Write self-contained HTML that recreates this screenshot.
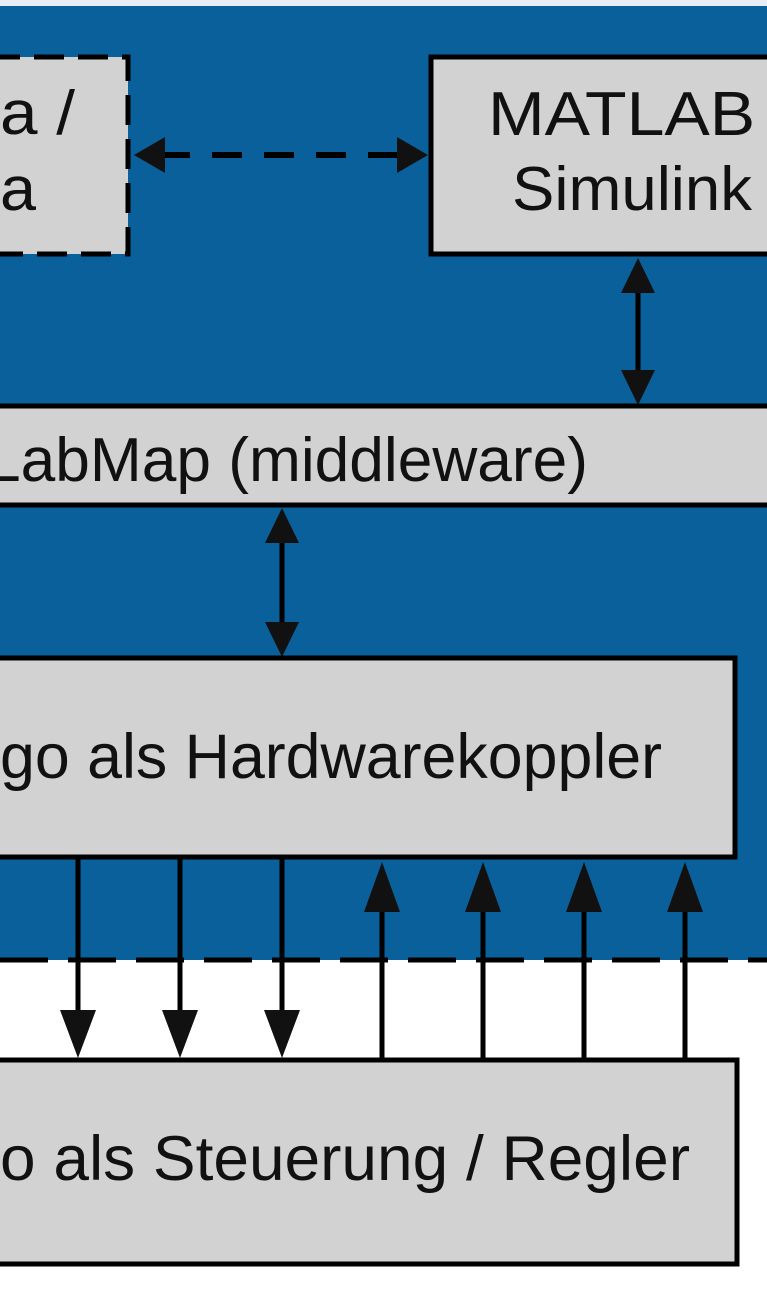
<!DOCTYPE html>
<html><head><meta charset="utf-8"><style>html,body{margin:0;padding:0;background:#fff}svg{display:block}</style></head>
<body>
<svg width="767" height="1300" viewBox="0 0 767 1300" xmlns="http://www.w3.org/2000/svg" font-family="Liberation Sans, Arial, sans-serif" fill="#111">
<rect x="0" y="0" width="767" height="6" fill="#e8eef3"/>
<rect x="0" y="6" width="767" height="954" fill="#0a609a"/>
<!-- dashed box -->
<rect x="-10" y="57" width="138" height="197" fill="#d2d2d2" stroke="#000" stroke-width="5" stroke-dasharray="30,14"/>
<text x="0" y="134" font-size="62" textLength="75" lengthAdjust="spacingAndGlyphs">a /</text>
<text x="0" y="210" font-size="62" textLength="36" lengthAdjust="spacingAndGlyphs">a</text>
<!-- MATLAB box -->
<rect x="431" y="57" width="350" height="197" fill="#d2d2d2" stroke="#000" stroke-width="5"/>
<text x="488" y="135" font-size="62" textLength="305" lengthAdjust="spacingAndGlyphs">MATLAB /</text>
<text x="512" y="210" font-size="62" textLength="240" lengthAdjust="spacingAndGlyphs">Simulink</text>
<!-- dashed arrow -->
<line x1="160" y1="155" x2="400" y2="155" stroke="#000" stroke-width="6" stroke-dasharray="30,22"/>
<path d="M134,155 L165,137 L165,173 z"/>
<path d="M428,155 L397,137 L397,173 z"/>
<!-- vertical arrow MATLAB-LabMap -->
<line x1="638" y1="285" x2="638" y2="380" stroke="#000" stroke-width="5"/>
<path d="M638,258 L621,293 L655,293 z"/>
<path d="M638,405 L621,370 L655,370 z"/>
<!-- LabMap bar -->
<rect x="-10" y="406" width="790" height="99" fill="#d2d2d2" stroke="#000" stroke-width="5"/>
<text x="-14" y="481" font-size="62" textLength="602" lengthAdjust="spacingAndGlyphs">LabMap (middleware)</text>
<!-- arrow LabMap-Hardware -->
<line x1="282" y1="535" x2="282" y2="630" stroke="#000" stroke-width="5"/>
<path d="M282,508 L265,543 L299,543 z"/>
<path d="M282,657 L265,622 L299,622 z"/>
<!-- Hardwarekoppler box -->
<rect x="-10" y="658" width="745" height="199" fill="#d2d2d2" stroke="#000" stroke-width="5"/>
<text x="0" y="778" font-size="63" textLength="662" lengthAdjust="spacingAndGlyphs">go als Hardwarekoppler</text>
<!-- dashed separator -->
<line x1="0" y1="960" x2="767" y2="960" stroke="#000" stroke-width="5" stroke-dasharray="48,20"/>
<g stroke="#000" stroke-width="5">
<line x1="78" y1="858" x2="78" y2="1020"/>
<line x1="180" y1="858" x2="180" y2="1020"/>
<line x1="282" y1="858" x2="282" y2="1020"/>
<line x1="382" y1="900" x2="382" y2="1060"/>
<line x1="483" y1="900" x2="483" y2="1060"/>
<line x1="584" y1="900" x2="584" y2="1060"/>
<line x1="685" y1="900" x2="685" y2="1060"/>
</g>
<path d="M78,1058 L60,1010 L96,1010 z"/>
<path d="M180,1058 L162,1010 L198,1010 z"/>
<path d="M282,1058 L264,1010 L300,1010 z"/>
<path d="M382,862 L364,912 L400,912 z"/>
<path d="M483,862 L465,912 L501,912 z"/>
<path d="M584,862 L566,912 L602,912 z"/>
<path d="M685,862 L667,912 L703,912 z"/>
<!-- bottom box -->
<rect x="-10" y="1060" width="747" height="204" fill="#d2d2d2" stroke="#000" stroke-width="5"/>
<text x="0" y="1180" font-size="63" textLength="690" lengthAdjust="spacingAndGlyphs">o als Steuerung / Regler</text>
</svg>
</body></html>
